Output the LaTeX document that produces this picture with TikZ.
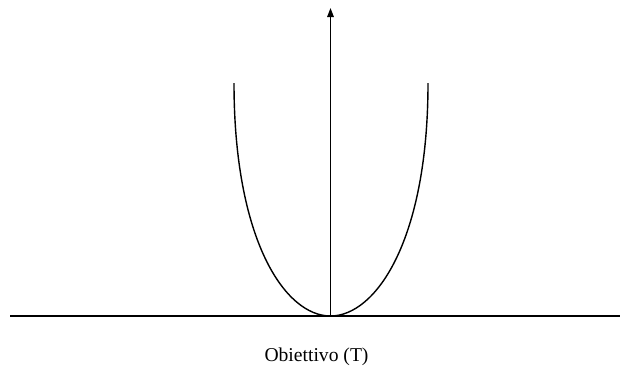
\documentclass[tikz,border=0pt]{standalone}
\usepackage{fontspec}
\setmainfont{Liberation Serif}
\usetikzlibrary{arrows.meta}
\begin{document}
\begin{tikzpicture}[x=1pt,y=-1pt,
  line/.style={draw=black,line width=1.4pt},
  label/.style={font=\fontsize{19.6}{22}\selectfont,inner sep=0pt,anchor=base}]
\useasboundingbox (0,0) rectangle (620,365);
\coordinate (L) at (10,316);
\coordinate (R) at (620,316);
\coordinate (V) at (330.5,316);
\coordinate (top) at (330.5,8);
\coordinate (PL) at (234,83);
\coordinate (PR) at (428,83);
\draw[line,line width=1.6pt] (L) -- (R);
\draw[line,-{Triangle[length=9pt,width=6.5pt]}] (V) -- (top);
\draw[line] (PL) .. controls (234,240) and (285,316) .. (V)
            .. controls (376,316) and (428,240) .. (PR);
\node[label] (obj) at (316.5,361) {Obiettivo (T)};
\end{tikzpicture}
\end{document}
